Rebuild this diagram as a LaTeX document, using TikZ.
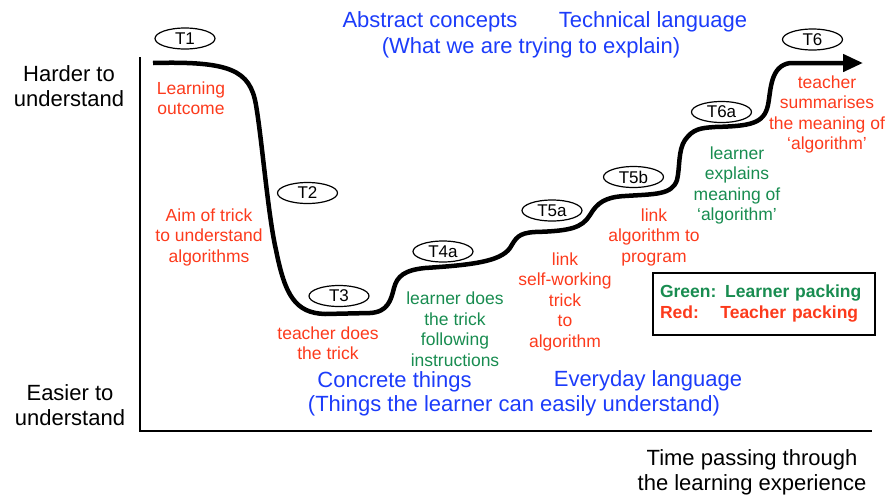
\documentclass[tikz,border=0pt]{standalone}
\usepackage{fontspec}
\setmainfont{Liberation Sans}
\usetikzlibrary{shapes.geometric,arrows.meta}
\definecolor{tred}{RGB}{252,58,28}
\definecolor{tgreen}{RGB}{24,140,80}
\definecolor{tblue}{RGB}{28,60,250}
% centred lines whose baseline is the baseline of the first line
\newcommand{\stack}[1]{\begin{tabular}[t]{@{}c@{}}#1\end{tabular}}
\begin{document}
\begin{tikzpicture}[x=1pt,y=-1pt,
  lbl/.style={inner sep=0pt, anchor=base, font=\fontsize{17.5}{20.5}\selectfont},
  redlbl/.style={lbl, text=tred},
  greenlbl/.style={lbl, text=tgreen},
  bluelbl/.style={inner sep=0pt, anchor=base, text=tblue, font=\fontsize{22}{25}\selectfont},
  axislbl/.style={inner sep=0pt, anchor=base, font=\fontsize{22}{25}\selectfont},
  stage/.style={ellipse, draw, line width=1.2pt, minimum width=60pt, minimum height=21pt,
    inner sep=0pt, font=\fontsize{17}{19}\selectfont},
  axisline/.style={line width=2pt},
  journey/.style={line width=4.5pt, -{Triangle[length=20pt,width=17pt]}},
]
\useasboundingbox (0,0) rectangle (891,499);

% axes
\coordinate (ytop) at (140,57);
\coordinate (origin) at (140,431);
\coordinate (xend) at (872,431);
\draw[axisline] (ytop) -- (origin) -- (xend);

% axis labels
\node[axislbl] (hard) at (69,81) {\stack{Harder to\\understand}};
\node[axislbl] (easy) at (70,400) {\stack{Easier to\\understand}};
\node[axislbl] (time) at (752,465) {\stack{Time passing through\\the learning experience}};

% blue headings
\node[bluelbl] (abstract) at (430,27) {Abstract concepts};
\node[bluelbl] (technical) at (653,27) {Technical language};
\node[bluelbl] (what) at (531,53) {(What we are trying to explain)};
\node[bluelbl] (concrete) at (394.5,387) {Concrete things};
\node[bluelbl] (everyday) at (648,386) {Everyday language};
\node[bluelbl] (things) at (514,411) {(Things the learner can easily understand)};

% the learning path
\coordinate (pstart) at (153,63);
\coordinate (pend) at (863,63);
\draw[journey] (pstart)
  .. controls (230,61) and (250,70) .. (256,105)
  .. controls (262,140) and (268,215) .. (276,250)
  .. controls (285,295) and (295,313) .. (325,314)
  -- (370,313)
  .. controls (388,312) and (391,300) .. (394,288)
  .. controls (397,276) and (405,270) .. (425,268)
  .. controls (470,265) and (500,262) .. (510,248)
  .. controls (516,238) and (518,233) .. (535,232)
  .. controls (570,231) and (582,228) .. (590,215)
  .. controls (597,203) and (605,197) .. (625,196)
  .. controls (655,194) and (672,195) .. (677,180)
  .. controls (680,168) and (678,150) .. (685,140)
  .. controls (693,129) and (700,128) .. (715,127)
  .. controls (750,126) and (764,124) .. (768,105)
  .. controls (771,90) and (770,66) .. (790,63)
  -- (pend);

% stages
\node[stage] (t1) at (185,38.5) {T1};
\node[stage] (t2) at (307.5,193) {T2};
\node[stage] (t3) at (339,296) {T3};
\node[stage] (t4a) at (443,251.5) {T4a};
\node[stage] (t5a) at (552,210.5) {T5a};
\node[stage] (t5b) at (633.5,177) {T5b};
\node[stage] (t6a) at (721.5,112) {T6a};
\node[stage] (t6) at (812.5,39.5) {T6};

% packing notes
\node[redlbl] (outcome) at (191,94) {\stack{Learning\\outcome}};
\node[redlbl] (aim) at (209,221) {\stack{Aim of trick\\to understand\\algorithms}};
\node[redlbl] (tdoes) at (328,339) {\stack{teacher does\\the trick}};
\node[greenlbl] (ldoes) at (455,304.5) {\stack{learner does\\the trick\\following\\instructions}};
\node[redlbl] (linktrick) at (565,265) {\stack{link\\self-working\\trick\\to\\algorithm}};
\node[redlbl] (linkprog) at (654,221) {\stack{link\\algorithm to\\program}};
\node[greenlbl] (lexplains) at (737,159) {\stack{learner\\explains\\meaning of\\‘algorithm’}};
\node[redlbl] (tsumm) at (827,88) {\stack{teacher\\summarises\\the meaning of\\‘algorithm’}};

% key
\node[draw, line width=2pt, minimum width=222pt, minimum height=62pt, text width=208pt,
  align=left, inner sep=0pt, font=\bfseries\fontsize{17.5}{21}\selectfont] (key) at (764,304)
  {\textcolor{tgreen}{Green: Learner packing}\\\textcolor{tred}{\makebox[3.45em][l]{Red:}Teacher packing}};
\end{tikzpicture}
\end{document}
